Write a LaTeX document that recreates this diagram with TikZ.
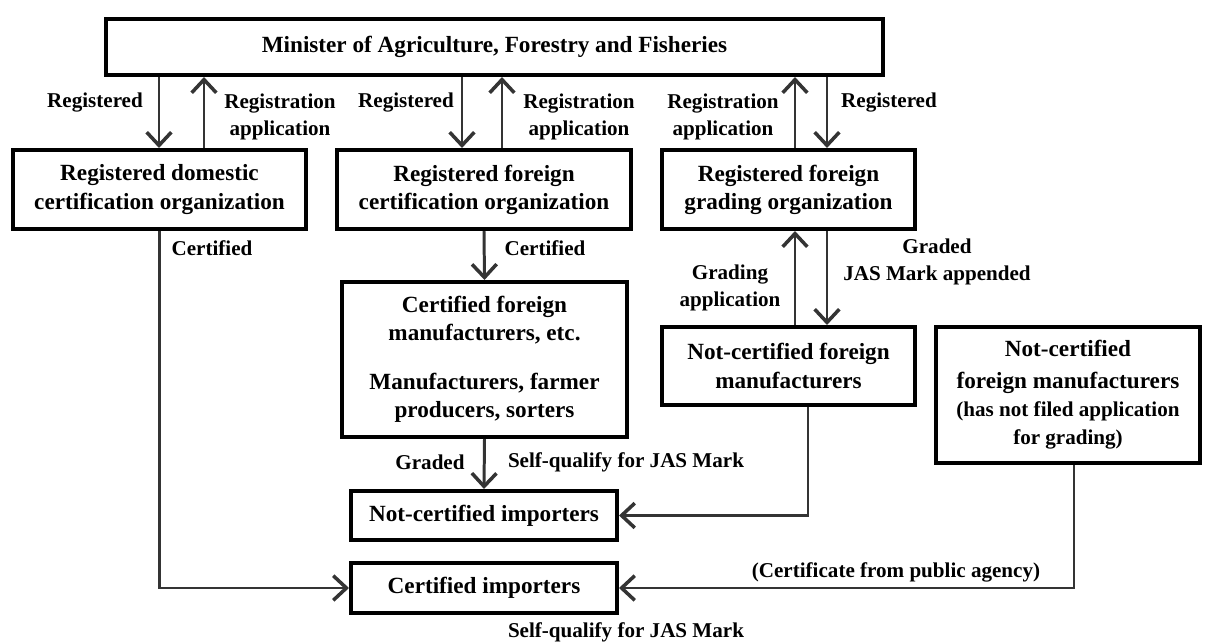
\documentclass[tikz,border=0pt]{standalone}
\usepackage{fontspec}
\setmainfont{Liberation Serif}
\usetikzlibrary{arrows.meta}
\definecolor{linkgray}{RGB}{52,52,52}
\newcommand{\boxfont}{\fontsize{13.2}{16}\selectfont\bfseries}
\newcommand{\tagfont}{\fontsize{12}{15.4}\selectfont\bfseries}

\begin{document}
\begin{tikzpicture}[x=0.02cm, y=-0.02cm,
  orgbox/.style={draw=black, line width=2.3pt, align=center, inner sep=0pt,
                 font=\boxfont},
  tag/.style={align=center, inner sep=0pt, font=\tagfont},
  link/.style={draw=linkgray, line width=1.7pt,
               -{Straight Barb[length=7.5pt, width=14pt, line width=2pt]}}]

\useasboundingbox (0,0) rectangle (1205,642);

% --- ministry and registered bodies ---------------------------------------
\node[orgbox, minimum width=15.54cm, minimum height=1.12cm] (min) at (494.5,47)
  {Minister of Agriculture, Forestry and Fisheries};
\node[orgbox, minimum width=5.86cm, minimum height=1.58cm] (dom) at (159.5,189.5)
  {Registered domestic\\certification organization};
\node[orgbox, minimum width=5.88cm, minimum height=1.58cm] (fcert) at (484,189.5)
  {Registered foreign\\certification organization};
\node[orgbox, minimum width=5.06cm, minimum height=1.58cm] (grad) at (788.5,189.5)
  {Registered foreign\\grading organization};

% --- manufacturers ----------------------------------------------------------
\node[orgbox, minimum width=5.7cm, minimum height=3.1cm] (cfm) at (484.5,359.5)
  {\fontsize{13.2}{15}\selectfont Certified foreign\\manufacturers, etc.\\[12pt]
   Manufacturers, farmer\\producers, sorters};
\node[orgbox, minimum width=5.06cm, minimum height=1.56cm] (ncfm) at (788.5,366)
  {Not-certified foreign\\manufacturers};
\node[orgbox, minimum width=5.28cm, minimum height=2.72cm] (nfiled) at (1068,395)
  {Not-certified\\[2pt]foreign manufacturers\\
   {\tagfont (has not filed application}\\{\tagfont for grading)}};

% --- importers --------------------------------------------------------------
\node[orgbox, minimum width=5.32cm, minimum height=0.98cm] (ncimp) at (484,515.5)
  {Not-certified importers};
\node[orgbox, minimum width=5.32cm, minimum height=1.0cm] (cimp) at (484,588)
  {Certified importers};

% --- labels -----------------------------------------------------------------
\node[tag] (reg1) at (95,103) {Registered};
\node[tag] (app1) at (280,116.5) {Registration\\application};
\node[tag] (reg2) at (406,103) {Registered};
\node[tag] (app2) at (579,116.5) {Registration\\application};
\node[tag] (app3) at (723,116.5) {Registration\\application};
\node[tag] (reg3) at (889,103) {Registered};
\node[tag] (cert1) at (212,248) {Certified};
\node[tag] (cert2) at (545,248) {Certified};
\node[tag] (gapp) at (730,288) {Grading\\application};
\node[tag] (graded1) at (937,261.5) {Graded\\JAS Mark appended};
\node[tag] (graded2) at (430,462) {Graded};
\node[tag] (self1) at (626,462) {Self-qualify for JAS Mark};
\node[tag] (public) at (896,572) {(Certificate from public agency)};
\node[tag] (self2) at (626,632) {Self-qualify for JAS Mark};

% --- connectors -------------------------------------------------------------
\draw[link] (min.south -| 159,0) -- (dom.north -| 159,0);
\draw[link] (dom.north -| 204,0) -- (min.south -| 204,0);
\draw[link] (min.south -| 462,0) -- (fcert.north -| 462,0);
\draw[link] (fcert.north -| 502,0) -- (min.south -| 502,0);
\draw[link] (grad.north -| 795,0) -- (min.south -| 795,0);
\draw[link] (min.south -| 827,0) -- (grad.north -| 827,0);
\draw[link] (fcert.south) -- (cfm.north);
\draw[link] (ncfm.north -| 795,0) -- (grad.south -| 795,0);
\draw[link] (grad.south -| 827,0) -- (ncfm.north -| 827,0);
\draw[link] (cfm.south) -- (ncimp.north);
\draw[link] (dom.south) |- (cimp.west);
\draw[link] (ncfm.south -| 808,0) |- (ncimp.east);
\draw[link] (nfiled.south -| 1074,0) |- (cimp.east);

\end{tikzpicture}
\end{document}
